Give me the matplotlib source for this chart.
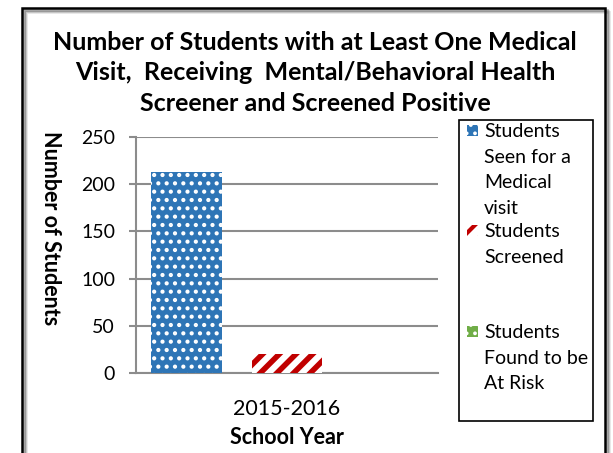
import matplotlib
matplotlib.use('Agg')
import matplotlib.pyplot as plt
from matplotlib.patches import Rectangle

# ======================
# DATA
# ======================
title = ('Number of Students with at Least One Medical\n'
         'Visit,  Receiving  Mental/Behavioral Health\n'
         'Screener and Screened Positive')
categories = ['2015-2016']
series_names = ['Students\nSeen for a\nMedical\nvisit',
                'Students\nScreened',
                'Students\nFound to be\nAt Risk']
series_values = [[213], [20], [0]]
series_colors = ['#2E75B6', '#C00000', '#70AD47']
y_ticks = [0, 50, 100, 150, 200, 250]

plt.rcParams['font.family'] = ['Lato', 'DejaVu Sans']

W, H = 613, 453
fig = plt.figure(figsize=(W / 100, H / 100), dpi=100)

# outer chart frame with a soft shadow
for off, a in [(4, 0.10), (3, 0.15), (2, 0.25)]:
    fig.patches.append(Rectangle((22 / W + off / W, -0.05 - off / H), 583 / W, (453 - 8) / H + 0.05,
                                 transform=fig.transFigure, fill=False, lw=2,
                                 edgecolor=(0, 0, 0, a), zorder=0))
fig.patches.append(Rectangle((22 / W, -0.05), 583 / W, (453 - 8) / H + 0.05,
                             transform=fig.transFigure, fill=False, lw=1.8,
                             edgecolor='black', zorder=1))

ax = fig.add_axes([136 / W, 1 - 373 / H, (438 - 136) / W, (373 - 137) / H])

bw = 0.235
gap = 0.333
offsets = [-gap, 0, gap]
styles = [dict(facecolor=series_colors[0], edgecolor='white', hatch='..', hlw=1.8),
          dict(facecolor='white', edgecolor=series_colors[1], hatch='//', hlw=4.0),
          dict(facecolor=series_colors[2], edgecolor='white', hatch='..', hlw=1.8)]
for i, vals in enumerate(series_values):
    st = styles[i]
    plt.rcParams['hatch.linewidth'] = st['hlw']
    xs = [j + offsets[i] for j in range(len(categories))]
    ax.bar(xs, vals, width=bw, facecolor=st['facecolor'], edgecolor=st['edgecolor'],
           hatch=st['hatch'], linewidth=0, zorder=3)

ax.set_xlim(-0.5, 0.5)
ax.set_ylim(0, 250)
ax.set_yticks(y_ticks)
ax.set_xticks(range(len(categories)))
ax.set_xticklabels(categories)
ax.yaxis.grid(True, color='#8c8c8c', linewidth=1.5, zorder=0)
ax.set_axisbelow(True)
for s in ['top', 'right']:
    ax.spines[s].set_visible(False)
ax.spines['left'].set_color('#8c8c8c')
ax.spines['left'].set_linewidth(1.5)
ax.spines['bottom'].set_color('#8c8c8c')
ax.spines['bottom'].set_linewidth(1.5)
ax.tick_params(axis='y', length=5, width=1.5, color='#8c8c8c', labelsize=14, pad=10)
ax.tick_params(axis='x', length=0, labelsize=15.5, pad=19)

fig.text(315 / W, 1 - 73 / H, title, ha='center', va='center', fontsize=18,
         fontweight='bold', linespacing=1.42)
fig.text(50 / W, 1 - 228 / H, 'Number of Students', rotation=-90, ha='center', va='center',
         fontsize=15.5, fontweight='bold')
fig.text(287 / W, 1 - 437 / H, 'School Year', ha='center', va='center',
         fontsize=15.5, fontweight='bold')

# legend box
fig.patches.append(Rectangle((459 / W, 1 - 421 / H), (593 - 459) / W, (421 - 120) / H,
                             transform=fig.transFigure, fill=False, lw=1.2, edgecolor='black'))
leg_tops = [131, 231, 332]
for i, name in enumerate(series_names):
    st = styles[i]
    plt.rcParams['hatch.linewidth'] = 1.5 if i != 1 else 3.0
    fig.patches.append(Rectangle((467 / W, 1 - (leg_tops[i] + 5) / H), 11 / W, 11 / H,
                                 transform=fig.transFigure, facecolor=st['facecolor'],
                                 edgecolor=st['edgecolor'], hatch=st['hatch'], lw=0))
    fig.text(484 / W, 1 - (leg_tops[i] - 8) / H, name, ha='left', va='top',
             fontsize=14, linespacing=1.62)

fig.savefig('out.png', dpi=100)
